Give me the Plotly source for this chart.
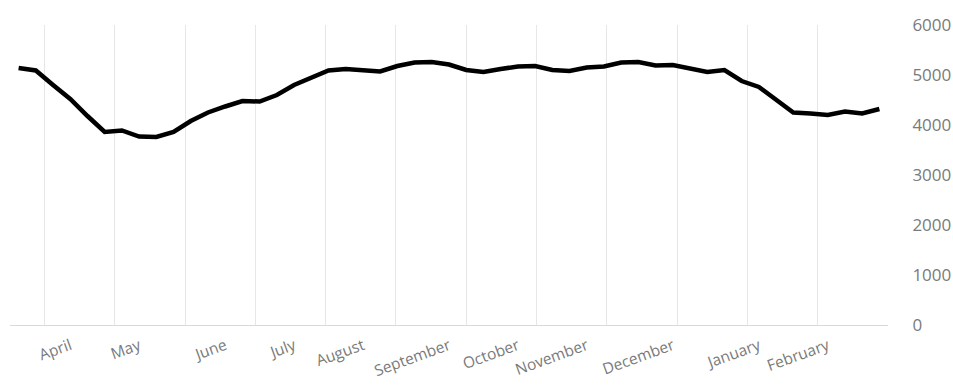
import plotly.graph_objects as go

# Weekly values (index = week number)
weeks = list(range(51))
values = [5140, 5090, 4800, 4520, 4180, 3860, 3890, 3770, 3760, 3860,
          4080, 4250, 4370, 4480, 4470, 4600, 4800, 4950, 5090, 5120,
          5100, 5070, 5180, 5250, 5260, 5210, 5100, 5060, 5120, 5170,
          5180, 5100, 5080, 5150, 5170, 5250, 5260, 5190, 5200, 5130,
          5060, 5100, 4880, 4760, 4510, 4250, 4230, 4200, 4270, 4230,
          4320]

month_weeks = [3, 7, 12, 16, 20, 25, 29, 33, 38, 43, 47]
month_labels = ["April", "May", "June", "July", "August", "September",
                "October", "November", "December", "January", "February"]

y_ticks = [0, 1000, 2000, 3000, 4000, 5000, 6000]

fig = go.Figure()
fig.add_trace(go.Scatter(
    x=weeks, y=values, mode="lines",
    line=dict(color="#000000", width=4.5),
    hoverinfo="skip", showlegend=False,
))

fig.update_layout(
    width=953, height=387,
    margin=dict(l=10, r=65, t=25, b=62),
    paper_bgcolor="white", plot_bgcolor="white",
    font=dict(family="Open Sans", color="#7a7a7a", size=15),
    xaxis=dict(
        range=[-0.5, 50.5],
        tickmode="array", tickvals=month_weeks, ticktext=month_labels,
        tickangle=-20, showgrid=False, zeroline=False,
        showline=True, linecolor="#d9d9d9", linewidth=1,
        ticks="outside", ticklen=5, tickcolor="rgba(0,0,0,0)",
        tickfont=dict(size=15.5, color="#7a7a7a"),
        minor=dict(tick0=1.5, dtick=49/12, showgrid=True,
                   gridcolor="#e6e6e6", gridwidth=1, ticks=""),
        automargin=False,
    ),
    yaxis=dict(
        range=[0, 6000], side="right",
        tickmode="array", tickvals=y_ticks,
        showgrid=False, zeroline=False, showline=False,
        ticks="outside", ticklen=20, tickcolor="rgba(0,0,0,0)",
        tickfont=dict(size=17, color="#7a7a7a"),
        automargin=False,
    ),
)

fig.write_html("out.html")
